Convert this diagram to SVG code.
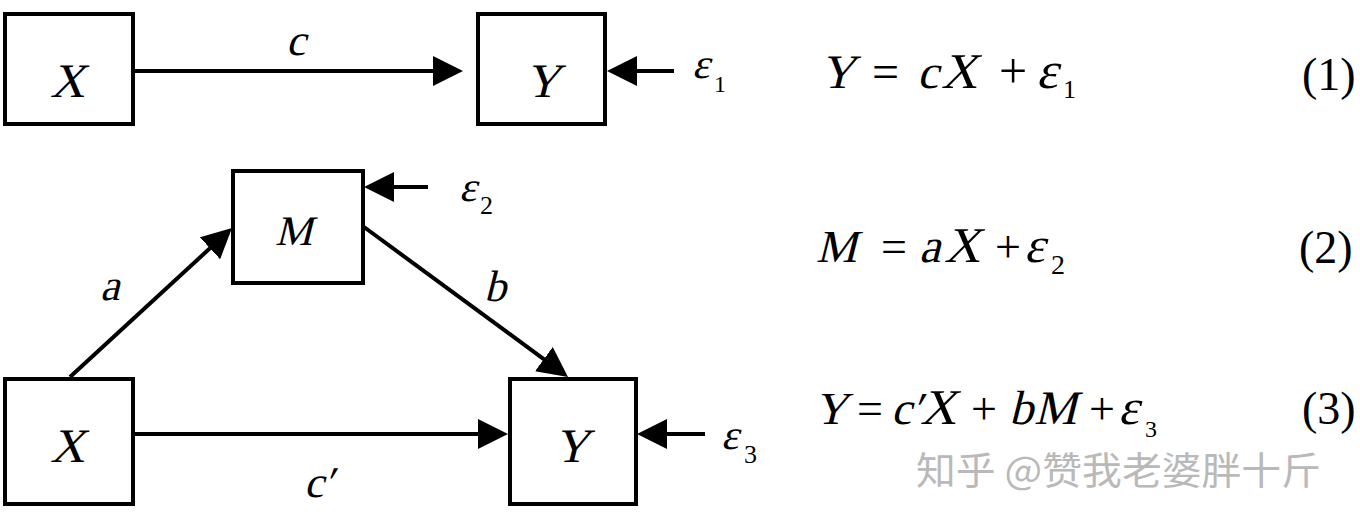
<svg xmlns="http://www.w3.org/2000/svg" width="1360" height="525" viewBox="0 0 1360 525">
<style>
.box{fill:#fff;stroke:#000;stroke-width:4}
.ln{stroke:#000;stroke-width:4;fill:none;marker-end:url(#ah)}
</style>
<defs>
<marker id="ah" markerUnits="userSpaceOnUse" markerWidth="30" markerHeight="30" refX="10" refY="15" orient="auto" viewBox="0 0 30 30">
<path d="M0,0 L30,15 L0,30 Z" fill="#000"/>
</marker>
</defs>
<rect width="1360" height="525" fill="#fff"/>
<g id="connectors">
<line class="ln" x1="135" y1="71" x2="443" y2="71"/>
<line class="ln" x1="674" y1="71" x2="627" y2="71"/>
<line class="ln" x1="428" y1="187" x2="384" y2="187"/>
<line class="ln" x1="70" y1="377" x2="217.3" y2="241.5"/>
<line class="ln" x1="364" y1="227" x2="551.9" y2="365.1"/>
<line class="ln" x1="135" y1="434" x2="488" y2="434"/>
<line class="ln" x1="705" y1="434" x2="657" y2="434"/>
<text font-family="Liberation Serif" transform="translate(286,55) skewX(-14)" font-size="44">c</text>
<text font-family="Liberation Serif" transform="translate(100,300) skewX(-14)" font-size="44">a</text>
<text font-family="Liberation Serif" transform="translate(484,301) skewX(-14)" font-size="44">b</text>
<text font-family="Liberation Serif" transform="translate(304,497) skewX(-14)" font-size="44">c′</text>
</g>
<g id="node-x1"><rect class="box" x="5" y="14" width="128" height="110"/><text font-family="Liberation Serif" transform="translate(50,97) skewX(-14)" font-size="48">X</text></g>
<g id="node-y1"><rect class="box" x="478" y="14" width="127" height="110"/><text font-family="Liberation Serif" transform="translate(525,97) skewX(-14)" font-size="48">Y</text></g>
<g id="node-e1"><text font-family="Liberation Serif" transform="translate(692,78) skewX(-14)" font-size="42">ε</text><text font-family="Liberation Serif" x="714" y="92" font-size="24">1</text></g>
<g id="node-m"><rect class="box" x="233" y="171" width="130" height="112"/><text font-family="Liberation Serif" transform="translate(275,245) skewX(-14)" font-size="42">M</text></g>
<g id="node-e2"><text font-family="Liberation Serif" transform="translate(459,201) skewX(-14)" font-size="42">ε</text><text font-family="Liberation Serif" x="480" y="214" font-size="26">2</text></g>
<g id="node-x2"><rect class="box" x="5" y="379" width="128" height="125"/><text font-family="Liberation Serif" transform="translate(50,462) skewX(-14)" font-size="48">X</text></g>
<g id="node-y2"><rect class="box" x="510" y="379" width="126" height="125"/><text font-family="Liberation Serif" transform="translate(554,462) skewX(-14)" font-size="48">Y</text></g>
<g id="node-e3"><text font-family="Liberation Serif" transform="translate(721,449) skewX(-14)" font-size="42">ε</text><text font-family="Liberation Serif" x="744" y="463" font-size="26">3</text></g>
<g id="eq1">
<text font-family="Liberation Serif" transform="translate(820,88) skewX(-14)" font-size="48">Y</text>
<text font-family="Liberation Serif" x="872" y="88" font-size="48">=</text>
<text font-family="Liberation Serif" transform="translate(917,88) skewX(-14)" font-size="48">c</text>
<text font-family="Liberation Serif" transform="translate(941,88) skewX(-14)" font-size="50">X</text>
<text font-family="Liberation Serif" x="999" y="88" font-size="50">+</text>
<text font-family="Liberation Serif" transform="translate(1036,88) skewX(-14)" font-size="52">ε</text>
<text font-family="Liberation Serif" x="1063" y="98" font-size="26">1</text>
<text font-family="Liberation Serif" x="1302" y="90" font-size="46">(1)</text>
</g>
<g id="eq2">
<text font-family="Liberation Serif" transform="translate(816,262) skewX(-14)" font-size="46">M</text>
<text font-family="Liberation Serif" x="881" y="262" font-size="46">=</text>
<text font-family="Liberation Serif" transform="translate(919,262) skewX(-14)" font-size="48">a</text>
<text font-family="Liberation Serif" transform="translate(944,262) skewX(-14)" font-size="50">X</text>
<text font-family="Liberation Serif" x="995" y="262" font-size="46">+</text>
<text font-family="Liberation Serif" transform="translate(1024,262) skewX(-14)" font-size="50">ε</text>
<text font-family="Liberation Serif" x="1051" y="274" font-size="28">2</text>
<text font-family="Liberation Serif" x="1299" y="263" font-size="46">(2)</text>
</g>
<g id="eq3">
<text font-family="Liberation Serif" transform="translate(814,424) skewX(-14)" font-size="46">Y</text>
<text font-family="Liberation Serif" x="857" y="424" font-size="46">=</text>
<text font-family="Liberation Serif" transform="translate(891,424) skewX(-14)" font-size="46">c′</text>
<text font-family="Liberation Serif" transform="translate(920,424) skewX(-14)" font-size="50">X</text>
<text font-family="Liberation Serif" x="971" y="424" font-size="46">+</text>
<text font-family="Liberation Serif" transform="translate(1009,424) skewX(-14)" font-size="48">b</text>
<text font-family="Liberation Serif" transform="translate(1034,424) skewX(-14)" font-size="48">M</text>
<text font-family="Liberation Serif" x="1089" y="424" font-size="46">+</text>
<text font-family="Liberation Serif" transform="translate(1118,424) skewX(-14)" font-size="50">ε</text>
<text font-family="Liberation Serif" x="1145" y="437" font-size="24">3</text>
<text font-family="Liberation Serif" x="1302" y="424" font-size="46">(3)</text>
</g>
<text font-family="Noto Sans CJK SC" fill="#b9b9b9" x="916" y="484" font-size="38" textLength="405" lengthAdjust="spacingAndGlyphs">知乎 @赞我老婆胖十斤</text>
</svg>
